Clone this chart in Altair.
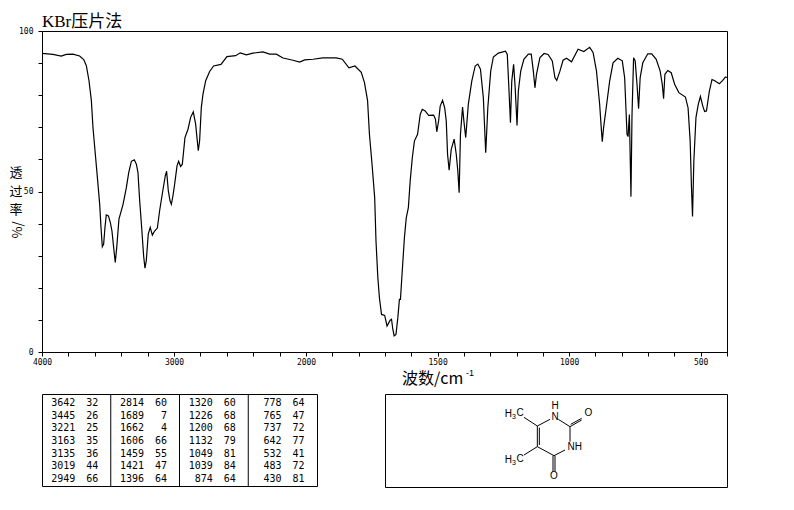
import altair as alt
import pandas as pd

# IR spectrum, wavenumber (cm-1) and transmittance (%)
wavenumber = [4000,3917,3854,3816,3765,3715,3684,3664,3644,3626,3614,3596,3576,3563,3553,3543,3533,3523,3513,3497,
 3482,3470,3457,3445,3434,3417,3386,3361,3343,3323,3301,3285,3273,3260,3245,3230,3220,3210,3195,3180,
 3164,3147,3126,3109,3083,3066,3056,3043,3030,3020,3008,2995,2977,2965,2950,2937,2917,2894,2874,2854,
 2836,2826,2816,2806,2793,2780,2760,2730,2700,2644,2599,2533,2498,2452,2402,2326,2275,2225,2174,2099,
 2048,2010,1973,1936,1885,1862,1837,1814,1790,1778,1766,1759,1749,1739,1734,1727,1721,1713,1701,1692,
 1680,1675,1670,1665,1658,1651,1645,1641,1635,1626,1619,1611,1604,1596,1588,1576,1566,1558,1547,1534,
 1515,1508,1503,1496,1490,1481,1473,1467,1462,1456,1448,1437,1429,1423,1418,1413,1405,1400,1393,1383,
 1370,1357,1347,1337,1326,1317,1309,1298,1288,1269,1242,1235,1229,1223,1218,1211,1205,1198,1193,1184,
 1172,1155,1144,1136,1130,1124,1111,1095,1080,1064,1054,1047,1035,1023,1010,991,966,944,922,909,
 896,884,877,874,869,859,846,833,815,798,789,780,776,771,765,761,755,749,742,736,
 730,720,701,686,669,654,646,641,636,625,612,599,583,558,548,540,535,531,526,518,
 509,501,492,485,478,467,457,448,429,416,406,400]
transmittance = [93.0,92.7,92.2,92.7,92.8,92.2,91.1,89.2,84.5,78.3,70,61.6,52.3,46,38.8,32.8,33.6,38.8,42.7,42.4,
 40.3,37.7,32.5,27.9,32.5,41.4,46,51.2,55.9,59.4,59.9,58.5,55.9,47.1,38.8,29.9,26.1,28.4,36.7,38.8,
 36.4,37.7,38.6,44,50.7,54.9,56.3,50.2,47.1,46,48.6,52.3,58,59.4,57.8,58.5,66.8,69.4,73.1,74.8,
 71,66.8,62.7,65.8,76.2,80.4,84.5,87.4,89.1,89.6,92,92.3,93.2,92.6,93.1,93.5,92.8,92.8,91.6,90.9,
 90.3,91,91.2,91.6,91.6,91.2,88.5,89.1,87.1,84,78.3,67.9,58.5,48.1,34.6,23.2,16.9,11.7,11.4,8.1,
 9.9,10.2,7.1,5,5.5,10.7,16.4,16.4,24.2,35.6,41.8,45,53.3,60.5,65.7,67.8,74,75.6,75.1,73.7,
 73.8,72.5,68.6,72,76.6,78.4,76.1,72,61.6,56.6,63.1,66.3,61.6,56.4,49.6,67.8,76.3,72,66.8,77.2,
 84.4,89.1,89.7,88.1,79.2,62.1,76.1,87.5,91.9,93.1,93.7,92.7,82.3,71.4,84.4,89.6,82.3,70.6,81.3,87.5,
 91.2,92.8,92.8,87.5,82.3,86.5,91.7,93,92.7,90.7,85.5,84.6,87.5,90.9,91.5,90.4,94.3,93.6,94.9,93.3,
 87.5,77.2,68.8,65.5,69.9,76.1,84.4,90.1,91.5,90.7,85.5,67.8,67.1,74,48.4,74,91.7,90.7,83.4,75.8,
 85.5,90.1,92.9,92.9,91.2,87.5,83.4,78.9,86.5,87.7,87,83.4,80.8,79.4,76.1,65.7,51.2,42.2,59.5,73,
 77.2,79.6,76.6,74.9,75.1,81.3,84.9,84.6,83.6,84.6,85.7,85.5]

x_ticks = [4000,3800,3600,3400,3200,3000,2800,2600,2400,2200,2000,1900,1800,1700,1600,1500,1400,1300,1200,1100,
           1000,900,800,700,600,500,400]
y_ticks = [0,10,20,30,40,50,60,70,80,90,100]

peak_wn = [3642,3445,3221,3163,3135,3019,2949, 2814,1689,1662,1606,1459,1421,1396,
           1320,1226,1200,1132,1049,1039,874, 778,765,737,642,532,483,430]
peak_t  = [32,26,25,35,36,44,66, 60,7,4,66,55,47,64, 60,68,68,79,81,84,64, 64,47,72,77,41,72,81]
peak_col = [c for c in range(4) for _ in range(7)]
peak_row = [r for _ in range(4) for r in range(7)]

# Structure drawn in its own coordinate system
bond_x1 = [172,178,172,235,270,272,270,255,219,225,222,172,172]
bond_y1 = [108,113,108,88,110,103,110,180,197,197,197,108,170]
bond_x2 = [172,178,210,270,305,305,270,222,219,225,172,132,132]
bond_y2 = [170,165,88,110,90,85,155,197,245,245,170,82,195]
atom_text = ["H","N","O","NH","O","H","C","H","C"]
atom_x = [225,225,325,284,222,85,120,85,120]
atom_y = [48,80,68,170,258,72,70,210,208]
sub_text = ["3","3"]
sub_x = [102,102]
sub_y = [80,218]

CJK = "Noto Sans CJK SC"
MONO = "DejaVu Sans Mono"

spec = pd.DataFrame({"wn": wavenumber, "t": transmittance})
x_scale = alt.Scale(domain=[4000, 2000, 400], range=[0, 264, 685], nice=False, zero=False)
y_scale = alt.Scale(domain=[0, 100], nice=False, zero=False)

line = alt.Chart(spec).mark_line(color="black", strokeWidth=1.2, interpolate="linear").encode(
    x=alt.X("wn:Q", scale=x_scale, axis=alt.Axis(
        values=x_ticks, title=None, grid=False, tickColor="black", domainColor="black", tickSize=4,
        labelColor="black", labelFont=MONO, labelFontSize=8, labelPadding=2, labelFlush=False, labelOverlap=False,
        labelExpr="indexof([4000,3000,2000,1500,1000,500], datum.value) >= 0 ? datum.value : ''")),
    y=alt.Y("t:Q", scale=y_scale, axis=alt.Axis(
        values=y_ticks, title=None, grid=False, tickColor="black", domainColor="black", tickSize=4,
        labelColor="black", labelFont=MONO, labelFontSize=8, labelPadding=5, labelOverlap=False,
        labelExpr="indexof([0,50,100], datum.value) >= 0 ? datum.value : ''")),
)

def label(text, x, y, size, align="left", angle=0, font=CJK):
    return alt.Chart(pd.DataFrame({"s": [text]})).mark_text(
        fontSize=size, font=font, align=align, baseline="middle", angle=angle, color="black"
    ).encode(text="s:N", x=alt.value(x), y=alt.value(y))

main = alt.layer(
    line,
    label("KBr压片法", 0, -9, 17, font="Liberation Serif, " + CJK),
    label("透", -26, 142, 13, "center"),
    label("过", -26, 161, 13, "center"),
    label("率", -26, 179, 13, "center"),
    label("%/", -24, 199, 13, "center", 270),
    label("波数/cm", 360, 348, 16),
    label("-1", 424, 342, 9, font="Liberation Sans"),
).properties(width=685, height=321)

peaks = pd.DataFrame({"col": peak_col, "row": peak_row, "wn": peak_wn, "t": peak_t})
tx = alt.X("xc:Q", scale=alt.Scale(domain=[0, 4], nice=False, zero=False), axis=None)
ty = alt.Y("row:Q", scale=alt.Scale(domain=[-0.7, 6.55], reverse=True, nice=False, zero=False), axis=None)
base = alt.Chart(peaks).transform_calculate(xc="datum.col + 0.5")
table = alt.layer(
    base.mark_text(align="right", dx=-1, font=MONO, fontSize=10, color="black").encode(x=tx, y=ty, text="wn:N"),
    base.mark_text(align="right", dx=22, font=MONO, fontSize=10, color="black").encode(x=tx, y=ty, text="t:N"),
    alt.Chart(pd.DataFrame({"xc": [1, 2, 3]})).mark_rule(color="black", strokeWidth=1).encode(x=tx),
).properties(width=275, height=92)

bonds = pd.DataFrame({"x": bond_x1, "y": bond_y1, "x2": bond_x2, "y2": bond_y2})
atoms = pd.DataFrame({"s": atom_text, "x": atom_x, "y": atom_y})
subs = pd.DataFrame({"s": sub_text, "x": sub_x, "y": sub_y})
mx = alt.Scale(domain=[-285, 741], nice=False, zero=False)
my = alt.Scale(domain=[291, 12], nice=False, zero=False)
mol = alt.layer(
    alt.Chart(bonds).mark_rule(color="black", strokeWidth=1).encode(
        x=alt.X("x:Q", scale=mx, axis=None), y=alt.Y("y:Q", scale=my, axis=None), x2="x2:Q", y2="y2:Q"),
    alt.Chart(atoms).mark_text(font="Liberation Sans", fontSize=10, color="black").encode(
        x=alt.X("x:Q", scale=mx, axis=None), y=alt.Y("y:Q", scale=my, axis=None), text="s:N"),
    alt.Chart(subs).mark_text(font="Liberation Sans", fontSize=7, color="black").encode(
        x=alt.X("x:Q", scale=mx, axis=None), y=alt.Y("y:Q", scale=my, axis=None), text="s:N"),
).properties(width=342, height=93)

chart = alt.vconcat(
    main,
    alt.hconcat(table, mol, spacing=66),
    spacing=5,
).configure_view(stroke="black", strokeWidth=1).properties(
    padding={"left": 0, "top": 4, "right": 0, "bottom": 0},
    background="white",
)
chart.save("out.html", embed_options={"renderer": "svg", "actions": False})
